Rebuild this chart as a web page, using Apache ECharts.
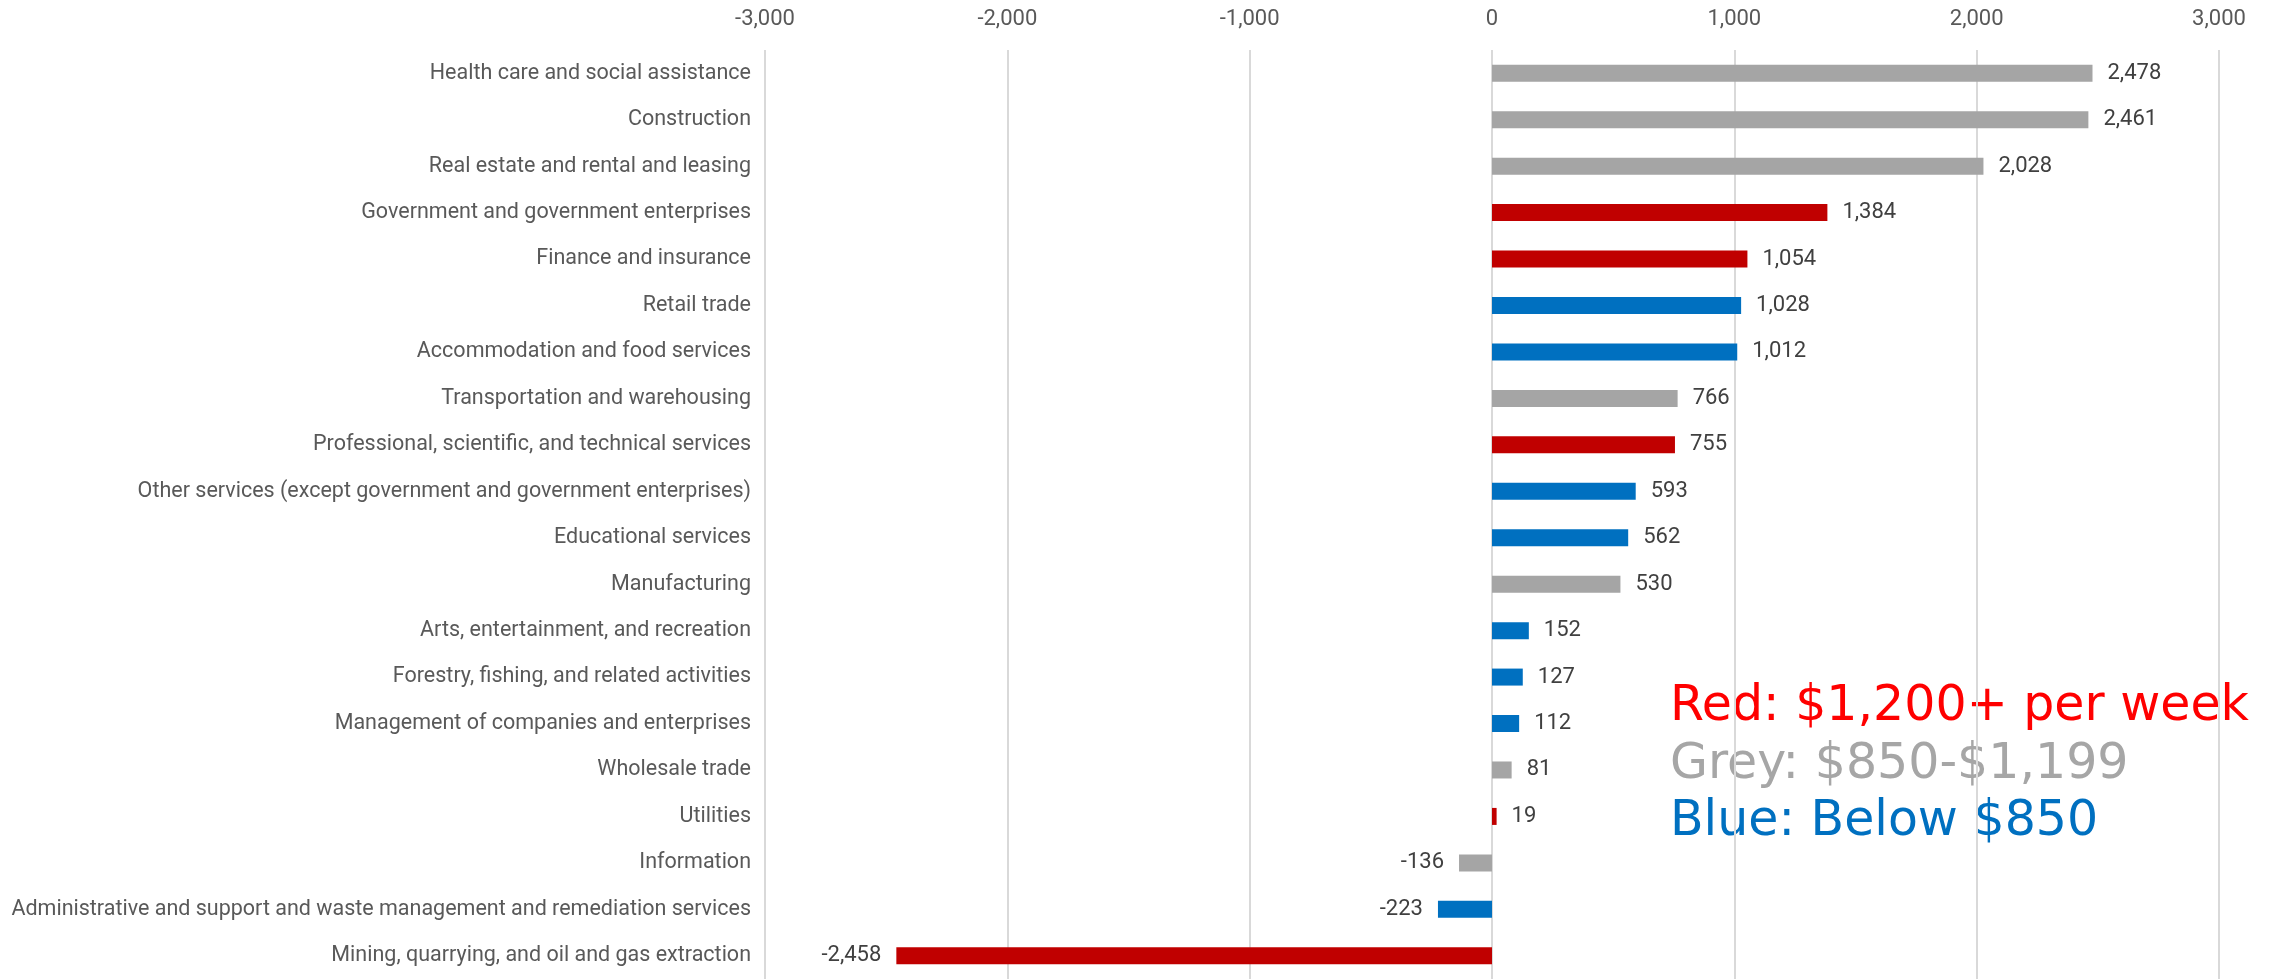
<!DOCTYPE html>
<html>
<head>
<meta charset="utf-8">
<script src="https://cdn.jsdelivr.net/npm/echarts@6/dist/echarts.min.js"></script>
<style>
html,body{margin:0;padding:0;background:#fff;}
#chart{width:2277px;height:979px;}
</style>
</head>
<body>
<div id="chart"></div>
<script>
const categories = [
  "Health care and social assistance",
  "Construction",
  "Real estate and rental and leasing",
  "Government and government enterprises",
  "Finance and insurance",
  "Retail trade",
  "Accommodation and food services",
  "Transportation and warehousing",
  "Professional, scientific, and technical services",
  "Other services (except government and government enterprises)",
  "Educational services",
  "Manufacturing",
  "Arts, entertainment, and recreation",
  "Forestry, fishing, and related activities",
  "Management of companies and enterprises",
  "Wholesale trade",
  "Utilities",
  "Information",
  "Administrative and support and waste management and remediation services",
  "Mining, quarrying, and oil and gas extraction"
];
const values = [2478, 2461, 2028, 1384, 1054, 1028, 1012, 766, 755, 593, 562, 530, 152, 127, 112, 81, 19, -136, -223, -2458];
const wageGroups = ["grey","grey","grey","red","red","blue","blue","grey","red","blue","blue","grey","blue","blue","blue","grey","red","grey","blue","red"];
const groupColors = { red: "#C00000", grey: "#A5A5A5", blue: "#0070C0" };
const legendLines = ["Red: $1,200+ per week", "Grey: $850-$1,199", "Blue: Below $850"];
const legendColors = ["#FF0000", "#A6A6A6", "#0070C0"];

const fmt = v => v.toLocaleString('en-US');

const chart = echarts.init(document.getElementById('chart'));
const seriesData = values.map((v, i) => ({
  value: v,
  itemStyle: { color: groupColors[wageGroups[i]] },
  label: { position: v < 0 ? 'left' : 'right' }
}));

const font = 'Roboto, "Liberation Sans", Arial, sans-serif';

chart.setOption({
  animation: false,
  backgroundColor: '#ffffff',
  grid: { left: 765, right: 58, top: 50, bottom: -5, containLabel: false },
  xAxis: {
    type: 'value',
    position: 'top',
    min: -3000, max: 3000, interval: 1000,
    axisLine: { show: false },
    axisTick: { show: false },
    splitLine: { show: true, lineStyle: { color: '#D9D9D9', width: 2 } },
    axisLabel: { color: '#595959', fontSize: 22, fontFamily: font, margin: 20, formatter: v => fmt(v) }
  },
  yAxis: {
    type: 'category',
    data: categories,
    inverse: true,
    axisLine: { show: false },
    axisTick: { show: false },
    axisLabel: { color: '#595959', fontSize: 21.5, fontFamily: font, margin: 14 }
  },
  series: [{
    type: 'bar',
    data: seriesData,
    barWidth: 17,
    label: {
      show: true,
      distance: 15,
      color: '#404040',
      fontSize: 22,
      fontFamily: font,
      formatter: p => fmt(p.value)
    }
  }],
  graphic: legendLines.map((t, i) => ({
    type: 'text',
    left: 1670,
    top: 683 + i * 57.5,
    style: { text: t, fill: legendColors[i], font: '49px "DejaVu Sans", Verdana, sans-serif' }
  }))
});
</script>
</body>
</html>
